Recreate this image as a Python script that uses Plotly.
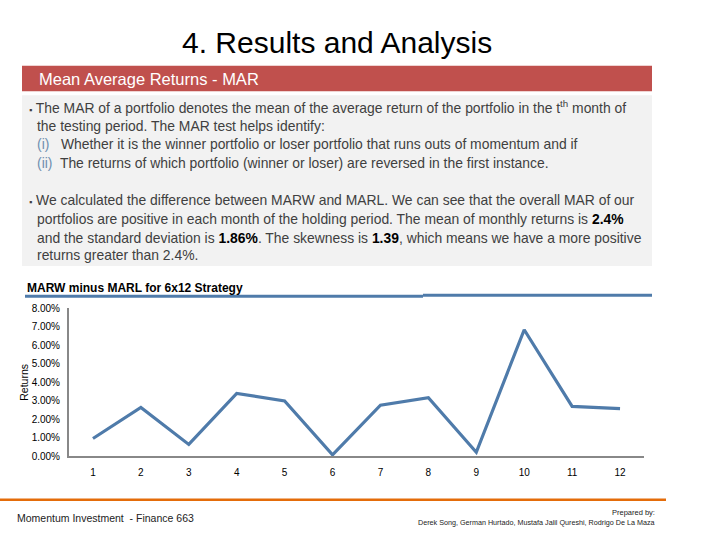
import plotly.graph_objects as go

months = [1, 2, 3, 4, 5, 6, 7, 8, 9, 10, 11, 12]
marw_minus_marl = [0.0097, 0.0265, 0.0065, 0.0340, 0.0300, 0.0009,
                   0.0277, 0.0317, 0.0023, 0.0684, 0.0270, 0.0258]
y_tick_vals = [0.0, 0.01, 0.02, 0.03, 0.04, 0.05, 0.06, 0.07, 0.08]
y_tick_text = ["0.00%", "1.00%", "2.00%", "3.00%", "4.00%", "5.00%", "6.00%", "7.00%", "8.00%"]

W, H = 720, 540
def px(x): return x / W
def py(y): return 1 - y / H

FONT = "Liberation Sans, Arial, sans-serif"
TXT = "#404040"

fig = go.Figure()
fig.add_trace(go.Scatter(
    x=months, y=marw_minus_marl, mode="lines",
    line=dict(color="#4F7BAA", width=3.2),
    hoverinfo="skip", showlegend=False,
))

shapes = [
    dict(type="rect", xref="paper", yref="paper", x0=px(22), x1=px(652), y0=py(88), y1=py(62),
         fillcolor="#C0504D", line=dict(width=0), layer="below"),
    dict(type="rect", xref="paper", yref="paper", x0=px(22), x1=px(652), y0=py(266), y1=py(92),
         fillcolor="#F2F2F2", line=dict(width=0), layer="below"),
    dict(type="line", xref="paper", yref="paper", x0=px(25), x1=px(423), y0=py(296.7), y1=py(296.7),
         line=dict(color="#4F7BAA", width=3)),
    dict(type="line", xref="paper", yref="paper", x0=px(423), x1=px(652), y0=py(295.8), y1=py(295.8),
         line=dict(color="#4F7BAA", width=3)),
    dict(type="line", xref="paper", yref="paper", x0=px(0), x1=px(666), y0=py(504), y1=py(504),
         line=dict(color="#E46C0A", width=2.5)),
]

def ann(x, y, text, size, color=TXT, xanchor="left", font=FONT):
    return dict(x=px(x), y=py(y), xref="paper", yref="paper", text=text, showarrow=False,
                xanchor=xanchor, yanchor="middle", align=xanchor if xanchor != "center" else "center",
                font=dict(family=font, size=size, color=color))

blue_i = "#6F8FB0"
BS = 13.9
annotations = [
    ann(337, 38, "4. Results and Analysis", 30, color="#000000", xanchor="center"),
    ann(37, 75, "Mean Average Returns - MAR", 16.5, color="#FFFFFF"),
    ann(27, 104, "<span style='font-size:9px'>▪</span> The MAR of a portfolio denotes the mean of the average return of the portfolio in the t<sup>th</sup> month of", BS),
    ann(35, 123, "the testing period. The MAR test helps identify:", BS),
    ann(35, 142, f"<span style='color:{blue_i}'>(i)</span>   Whether it is the winner portfolio or loser portfolio that runs outs of momentum and if", BS),
    ann(35, 161, f"<span style='color:{blue_i}'>(ii)</span>  The returns of which portfolio (winner or loser) are reversed in the first instance.", BS),
    ann(27, 199, "<span style='font-size:9px'>▪</span> We calculated the difference between MARW and MARL. We can see that the overall MAR of our", BS),
    ann(35, 218, "portfolios are positive in each month of the holding period. The mean of monthly returns is <b style='color:#000'>2.4%</b>", BS),
    ann(35, 237, "and the standard deviation is <b style='color:#000'>1.86%</b>. The skewness is <b style='color:#000'>1.39</b>, which means we have a more positive", BS),
    ann(35, 255, "returns greater than 2.4%.", BS),
    ann(25, 288, "<b>MARW minus MARL for 6x12 Strategy</b>", 12, color="#000000"),
    ann(15, 523, "Momentum Investment  - Finance 663", 10.5, color="#222222"),
    ann(657, 517, "Prepared by:", 7.5, color="#222222", xanchor="right"),
    ann(657, 527, "Derek Song, German Hurtado, Mustafa Jalil Qureshi, Rodrigo De La Maza", 7.2, color="#222222", xanchor="right"),
]

fig.update_layout(
    width=W, height=H,
    margin=dict(l=0, r=0, t=0, b=0),
    paper_bgcolor="#FFFFFF", plot_bgcolor="#FFFFFF",
    font=dict(family=FONT, color="#000000"),
    shapes=shapes, annotations=annotations,
    xaxis=dict(
        domain=[px(69), px(644)], range=[0.5, 12.5],
        tickvals=months, ticktext=[str(m) for m in months],
        showgrid=False, zeroline=False, showline=True, linecolor="#888888", linewidth=2,
        ticks="", ticklabelstandoff=6, tickfont=dict(size=10, color="#000000"),
        fixedrange=True,
    ),
    yaxis=dict(
        domain=[py(460), py(309)], range=[0, 0.08],
        tickvals=y_tick_vals, ticktext=y_tick_text,
        showgrid=False, zeroline=False, showline=True, linecolor="#888888", linewidth=2,
        ticks="", ticklabelstandoff=5, tickfont=dict(size=10, color="#000000"),
        title=dict(text="Returns", font=dict(size=10.5, color="#000000"), standoff=1),
        fixedrange=True,
    ),
)

fig.write_html("out.html")
